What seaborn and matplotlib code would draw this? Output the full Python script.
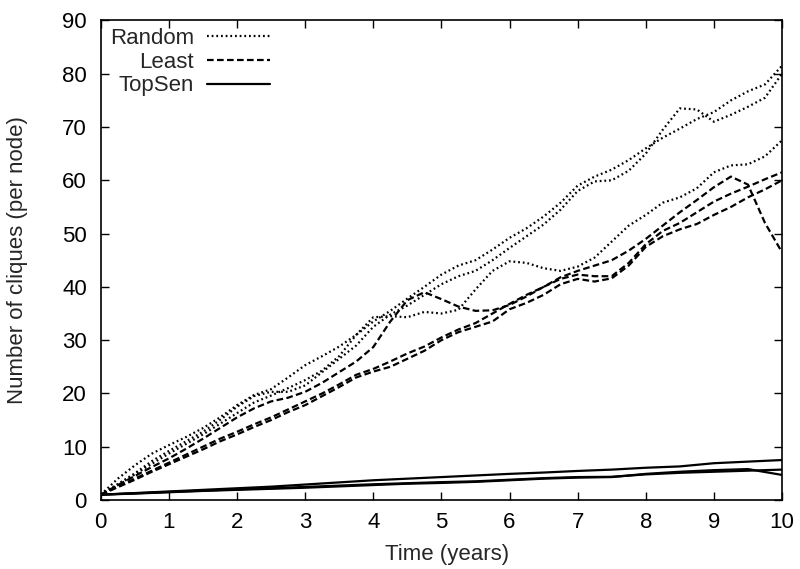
import numpy as np
import pandas as pd
import matplotlib
matplotlib.use("Agg")
import matplotlib.pyplot as plt
import seaborn as sns
from matplotlib.lines import Line2D

# ---------------- data ----------------
time_fine = [0, 0.25, 0.5, 0.75, 1, 1.25, 1.5, 1.75, 2, 2.25, 2.5, 2.75, 3, 3.25, 3.5, 3.75,
             4, 4.25, 4.5, 4.75, 5, 5.25, 5.5, 5.75, 6, 6.25, 6.5, 6.75, 7, 7.25, 7.5, 7.75,
             8, 8.25, 8.5, 8.75, 9, 9.25, 9.5, 9.75, 10]
time_coarse = [0, 0.5, 1, 1.5, 2, 2.5, 3, 3.5, 4, 4.5, 5, 5.5, 6, 6.5, 7, 7.5, 8, 8.5, 9, 9.5, 10]

random_run1 = [1, 4, 6.5, 8.7, 10.3, 11.8, 13.5, 15.5, 17.8, 19.7, 20.8, 23, 25.3, 27, 28.8, 31,
               33.5, 35.5, 37.8, 40, 42.3, 44, 45, 47, 49.2, 51, 53.2, 55.8, 59, 60.7, 62, 63.8,
               66, 68, 69.7, 71.5, 72.8, 75, 76.7, 78, 81.5]
random_run2 = [1, 3, 5, 7.3, 9.2, 11, 12.8, 15, 17.5, 19.5, 20.3, 20.3, 21.5, 24, 26.5, 29,
               32.5, 34.8, 36.5, 38.5, 40.5, 42, 43, 45, 47.3, 49.5, 51.7, 54.5, 58, 59.8, 60, 61.8,
               65, 69.5, 73.5, 73.3, 71, 72.3, 73.8, 75.5, 80]
random_run3 = [1, 2.8, 4.8, 6.8, 8.7, 10.5, 12.3, 14.3, 16.3, 18.3, 19.6, 21, 22.5, 24.3, 27, 31,
               34.3, 34.5, 34.3, 35.3, 35, 35.7, 39.5, 43, 44.8, 44.5, 43.5, 43, 43.8, 45.5, 48.5, 51.5,
               53.5, 55.8, 56.8, 58.5, 61.5, 62.8, 63, 64.5, 67.5]

least_run1 = [1, 2.8, 4.5, 6.2, 7.8, 9.6, 11.5, 13.5, 15.5, 17.2, 18.5, 19.2, 20.3, 22, 24, 26,
              28.7, 33.5, 37.5, 39, 37.7, 36.3, 35.5, 35.6, 36.6, 38.2, 40, 41.8, 43, 44, 45, 46.8,
              49, 51.5, 54, 56.3, 58.7, 60.7, 59.2, 52, 46.5]
least_run2 = [1, 2.5, 4, 5.5, 7, 8.5, 10, 11.5, 12.8, 14.2, 15.5, 17, 18.5, 20, 21.7, 23.5,
              24.6, 26, 27.5, 28.8, 30.5, 32, 33.2, 35, 36.8, 38.5, 40, 41.5, 42.3, 42, 42, 44.5,
              48, 50.5, 52, 54, 56, 57.5, 58.8, 60.2, 61.5]
least_run3 = [1, 2.4, 3.8, 5.3, 6.7, 8.1, 9.5, 11, 12.3, 13.7, 15, 16.5, 17.8, 19.5, 21.2, 23,
              24.1, 25, 26.5, 28, 30, 31.5, 32.5, 33.5, 35.8, 37, 38.5, 40.5, 41.5, 41, 41.6, 44,
              47.5, 49.5, 50.8, 51.8, 53.5, 55, 56.8, 58.3, 60]

topsen_run1 = [1, 1.3, 1.6, 1.9, 2.2, 2.5, 2.9, 3.3, 3.7, 4.0, 4.3, 4.6, 4.9, 5.15, 5.45, 5.7,
               6.05, 6.3, 6.9, 7.2, 7.5]
topsen_run2 = [1, 1.25, 1.5, 1.75, 2.0, 2.2, 2.45, 2.7, 2.95, 3.15, 3.35, 3.5, 3.8, 4.1, 4.3, 4.35,
               4.8, 5.1, 5.3, 5.5, 5.7]
topsen_run3 = [1, 1.2, 1.45, 1.7, 1.9, 2.1, 2.3, 2.55, 2.8, 3.05, 3.2, 3.4, 3.7, 4.0, 4.2, 4.3,
               4.9, 5.3, 5.6, 5.8, 4.7]

methods = ["Random", "Least", "TopSen"]
x_ticks = [0, 1, 2, 3, 4, 5, 6, 7, 8, 9, 10]
y_ticks = [0, 10, 20, 30, 40, 50, 60, 70, 80, 90]

# ---------------- style ----------------
sns.set_style("ticks")
plt.rcParams["font.family"] = ["Liberation Sans", "DejaVu Sans"]
FS = 16
LW = 1.6

fig = plt.figure(figsize=(8.0, 5.69), dpi=100)
ax = fig.add_axes([0.126, 0.1213, 0.8515, 0.8427])

styles = {
    "Random": (0, (0.8, 1.3)),
    "Least": (0, (3.0, 1.5)),
    "TopSen": "-",
}
groups = {
    "Random": (time_fine, [random_run1, random_run2, random_run3]),
    "Least": (time_fine, [least_run1, least_run2, least_run3]),
    "TopSen": (time_coarse, [topsen_run1, topsen_run2, topsen_run3]),
}

for m in methods:
    t, runs = groups[m]
    for r in runs:
        sns.lineplot(x=t, y=r, ax=ax, color="black", linewidth=LW,
                     linestyle=styles[m], estimator=None, sort=False, legend=False)

handles = [Line2D([0], [0], color="black", linewidth=LW, linestyle=styles[m]) for m in methods]
leg = fig.legend(handles, methods, loc="upper left",
                 bbox_to_anchor=(110 / 800, 1 - 28 / 569),
                 frameon=False, markerfirst=False, fontsize=FS, handlelength=2.8,
                 handletextpad=0.6, labelspacing=0.12, borderpad=0.0, borderaxespad=0.0)

ax.set_xlim(0, 10)
ax.set_ylim(0, 90)
ax.set_xticks(x_ticks)
ax.set_yticks(y_ticks)
ax.set_xticklabels([str(v) for v in x_ticks])
ax.set_yticklabels([str(v) for v in y_ticks])
ax.tick_params(axis="both", direction="in", length=6, width=1, top=True, right=True,
               labelsize=FS, colors="black")
ax.tick_params(axis="y", pad=10)
ax.tick_params(axis="x", pad=9)
for s in ax.spines.values():
    s.set_visible(True)
    s.set_color("black")
    s.set_linewidth(1.2)

ax.set_xlabel("Time (years)", fontsize=FS)
ax.set_ylabel("Number of cliques (per node)", fontsize=FS)
ax.xaxis.set_label_coords(0.508, -0.092)
ax.yaxis.set_label_coords(-0.107, 0.5)

fig.savefig("out.png", dpi=100)
